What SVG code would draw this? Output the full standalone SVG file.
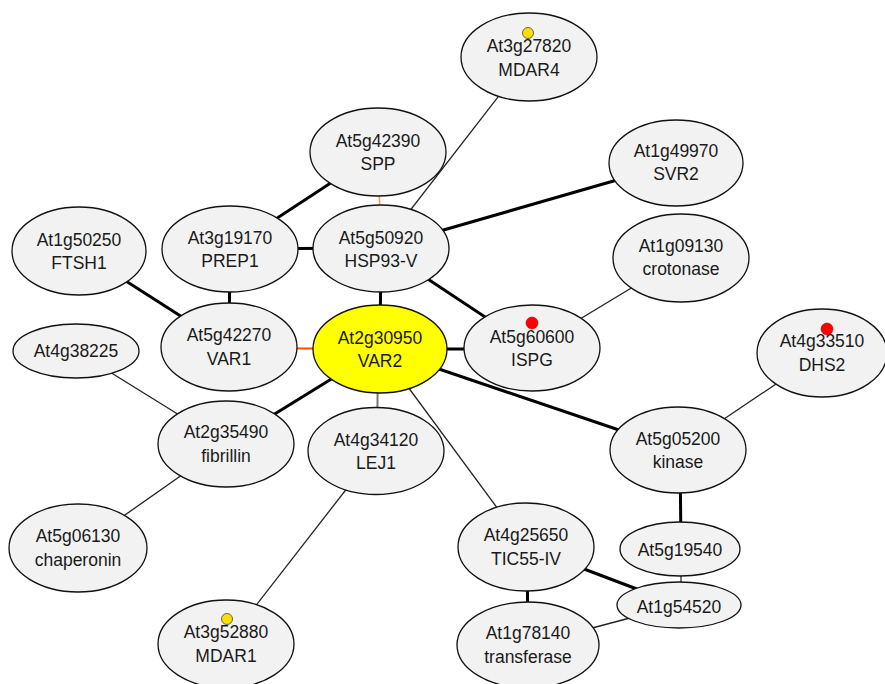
<svg xmlns="http://www.w3.org/2000/svg" width="885" height="684" viewBox="0 0 885 684">
<style>
.n{fill:#f2f2f2;stroke:#111;stroke-width:1.3}
.hub{fill:#ffff00;stroke:#111;stroke-width:1.3}
.t{font-family:"Liberation Sans",Arial,sans-serif;font-size:17.5px;fill:#1a1a1a;text-anchor:middle}
.e{stroke:#000;fill:none}
.thin{stroke-width:1.3;stroke:#222}
.thick{stroke-width:3}
.or{stroke:#ff5a00;stroke-width:2.2}
.or2{stroke:#ff9a50;stroke-width:1.6}
.gr{stroke:#777;stroke-width:2}
.ydot{fill:#ffdd00;stroke:#444;stroke-width:0.8}
.rdot{fill:#ff0000;stroke:#b00;stroke-width:0.6}
</style>
<rect width="885" height="684" fill="#fff"/>
<g id="edges">
<line class="e thick" x1="378" y1="152" x2="230" y2="249"/>
<line class="e or2" x1="378" y1="152" x2="381" y2="248"/>
<line class="e thin" x1="529" y1="57" x2="381" y2="248"/>
<line class="e thick" x1="381" y1="248" x2="676" y2="163"/>
<line class="e thick" x1="230" y1="249" x2="381" y2="248"/>
<line class="e thick" x1="230" y1="249" x2="229" y2="347"/>
<line class="e thick" x1="79" y1="251" x2="229" y2="347"/>
<line class="e thick" x1="381" y1="248" x2="380" y2="349"/>
<line class="e thick" x1="381" y1="248" x2="532" y2="348"/>
<line class="e or" x1="229" y1="348" x2="380" y2="349"/>
<line class="e thick" x1="380" y1="349" x2="532" y2="349"/>
<line class="e thin" x1="532" y1="348" x2="681" y2="258"/>
<line class="e thick" x1="380" y1="349" x2="678" y2="450"/>
<line class="e thin" x1="822" y1="353" x2="678" y2="450"/>
<line class="e thick" x1="380" y1="349" x2="226" y2="444"/>
<line class="e thin" x1="76" y1="351" x2="226" y2="444"/>
<line class="e thin" x1="226" y1="444" x2="78" y2="548"/>
<line class="e gr" x1="378" y1="349" x2="377" y2="451"/>
<line class="e thin" x1="380" y1="349" x2="526" y2="547"/>
<line class="e thin" x1="376" y1="451" x2="226" y2="644"/>
<line class="e thick" x1="680" y1="450" x2="681" y2="549"/>
<line class="e gr" x1="681" y1="549" x2="681" y2="605"/>
<line class="e thick" x1="526" y1="547" x2="679" y2="605"/>
<line class="e thick" x1="527" y1="547" x2="528" y2="645"/>
<line class="e thin" x1="528" y1="645" x2="679" y2="605"/>
</g>
<g id="n-MDAR4"><ellipse class="n" cx="529" cy="57" rx="68" ry="44"/><text class="t" x="529" y="52">At3g27820</text><text class="t" x="529" y="76">MDAR4</text><circle class="ydot" cx="528" cy="33" r="5.5"/></g>
<g id="n-SPP"><ellipse class="n" cx="378" cy="152" rx="68" ry="44"/><text class="t" x="378" y="147">At5g42390</text><text class="t" x="378" y="170">SPP</text></g>
<g id="n-SVR2"><ellipse class="n" cx="676" cy="163" rx="67" ry="43"/><text class="t" x="676" y="157">At1g49970</text><text class="t" x="676" y="180">SVR2</text></g>
<g id="n-FTSH1"><ellipse class="n" cx="79" cy="251" rx="67" ry="44"/><text class="t" x="79" y="246">At1g50250</text><text class="t" x="79" y="269">FTSH1</text></g>
<g id="n-PREP1"><ellipse class="n" cx="230" cy="249" rx="68" ry="43"/><text class="t" x="230" y="244">At3g19170</text><text class="t" x="230" y="267">PREP1</text></g>
<g id="n-HSP93V"><ellipse class="n" cx="381" cy="248.5" rx="68" ry="43.5"/><text class="t" x="381" y="244">At5g50920</text><text class="t" x="381" y="267">HSP93-V</text></g>
<g id="n-crotonase"><ellipse class="n" cx="681" cy="258" rx="68" ry="44"/><text class="t" x="681" y="252">At1g09130</text><text class="t" x="681" y="275">crotonase</text></g>
<g id="n-At4g38225"><ellipse class="n" cx="76" cy="351" rx="63" ry="27"/><text class="t" x="76" y="357">At4g38225</text></g>
<g id="n-VAR1"><ellipse class="n" cx="229" cy="347" rx="68" ry="44"/><text class="t" x="229" y="341">At5g42270</text><text class="t" x="229" y="365">VAR1</text></g>
<g id="n-VAR2"><ellipse class="hub" cx="380" cy="349" rx="67" ry="44"/><text class="t" x="380" y="344">At2g30950</text><text class="t" x="380" y="367">VAR2</text></g>
<g id="n-ISPG"><ellipse class="n" cx="532" cy="348" rx="68" ry="43"/><text class="t" x="532" y="343">At5g60600</text><text class="t" x="532" y="366">ISPG</text><circle class="rdot" cx="532" cy="323" r="6"/></g>
<g id="n-DHS2"><ellipse class="n" cx="822" cy="353" rx="65" ry="44"/><text class="t" x="822" y="347">At4g33510</text><text class="t" x="822" y="371">DHS2</text><circle class="rdot" cx="827" cy="329" r="6"/></g>
<g id="n-fibrillin"><ellipse class="n" cx="226" cy="444" rx="68" ry="43"/><text class="t" x="226" y="438">At2g35490</text><text class="t" x="226" y="462">fibrillin</text></g>
<g id="n-LEJ1"><ellipse class="n" cx="376" cy="451" rx="68" ry="43.5"/><text class="t" x="376" y="446">At4g34120</text><text class="t" x="376" y="469">LEJ1</text></g>
<g id="n-kinase"><ellipse class="n" cx="678" cy="450" rx="68" ry="43"/><text class="t" x="678" y="445">At5g05200</text><text class="t" x="678" y="468">kinase</text></g>
<g id="n-chaperonin"><ellipse class="n" cx="78" cy="548" rx="69" ry="44"/><text class="t" x="78" y="542">At5g06130</text><text class="t" x="78" y="566">chaperonin</text></g>
<g id="n-TIC55"><ellipse class="n" cx="526" cy="547" rx="68" ry="44"/><text class="t" x="526" y="541">At4g25650</text><text class="t" x="526" y="565">TIC55-IV</text></g>
<g id="n-At5g19540"><ellipse class="n" cx="680" cy="549" rx="60" ry="27"/><text class="t" x="680" y="556">At5g19540</text></g>
<g id="n-At1g54520"><ellipse class="n" cx="679" cy="605" rx="62" ry="23"/><text class="t" x="679" y="613">At1g54520</text></g>
<g id="n-MDAR1"><ellipse class="n" cx="226" cy="644" rx="68" ry="44"/><text class="t" x="226" y="638">At3g52880</text><text class="t" x="226" y="662">MDAR1</text><circle class="ydot" cx="227" cy="619" r="5.5"/></g>
<g id="n-transferase"><ellipse class="n" cx="528" cy="645" rx="71" ry="43"/><text class="t" x="528" y="639">At1g78140</text><text class="t" x="528" y="663">transferase</text></g>
</svg>
